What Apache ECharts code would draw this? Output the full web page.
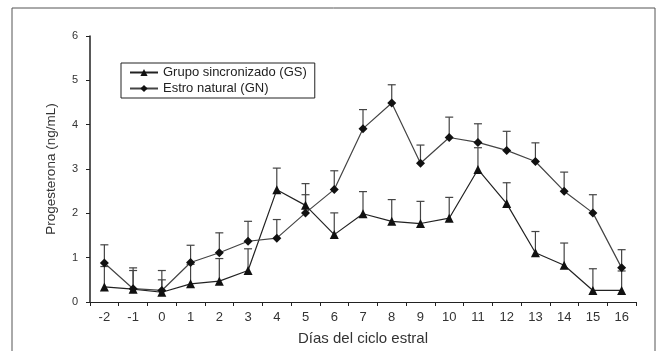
<!DOCTYPE html>
<html>
<head>
<meta charset="utf-8">
<script src="https://cdn.jsdelivr.net/npm/echarts@6/dist/echarts.min.js"></script>
<style>
  html, body { margin: 0; padding: 0; background: #fff; }
  #main { width: 663px; height: 351px; }
</style>
</head>
<body>
<div id="main"></div>
<script>
let dias = ["-2", "-1", "0", "1", "2", "3", "4", "5", "6", "7", "8", "9", "10", "11", "12", "13", "14", "15", "16"];

// Grupo sincronizado (GS): media y extremo superior del error
let gsMedia = [0.34, 0.29, 0.22, 0.41, 0.47, 0.71, 2.53, 2.18, 1.52, 1.99, 1.82, 1.77, 1.89, 2.99, 2.22, 1.11, 0.83, 0.26, 0.26];
let gsError = [0.80, 0.71, 0.50, 0.85, 0.98, 1.20, 3.02, 2.67, 2.01, 2.49, 2.31, 2.27, 2.36, 3.48, 2.69, 1.59, 1.33, 0.75, 0.70];

// Estro natural (GN)
let gnMedia = [0.88, 0.30, 0.26, 0.89, 1.11, 1.37, 1.44, 2.01, 2.54, 3.91, 4.49, 3.13, 3.71, 3.60, 3.42, 3.17, 2.50, 2.01, 0.77];
let gnError = [1.29, 0.77, 0.71, 1.28, 1.56, 1.82, 1.86, 2.42, 2.96, 4.34, 4.90, 3.54, 4.17, 4.02, 3.85, 3.59, 2.93, 2.42, 1.18];

let dom = document.getElementById("main");
let myChart = echarts.init(dom, null, { renderer: "canvas" });

function barras(media, error) {
    return media.map(function (v, i) { return [i, v, error[i]]; });
}

function dibujarError(params, api) {
    let base = api.coord([api.value(0), api.value(1)]);
    let tope = api.coord([api.value(0), api.value(2)]);
    let style = { stroke: "#444", lineWidth: 1.2 };
    return {
        type: "group",
        children: [
            { type: "line", shape: { x1: base[0], y1: base[1], x2: tope[0], y2: tope[1] }, style: style },
            { type: "line", shape: { x1: tope[0] - 4, y1: tope[1], x2: tope[0] + 4, y2: tope[1] }, style: style }
        ]
    };
}

let fuente = "Arial, 'Liberation Sans', sans-serif";

let option = {
    animation: false,
    backgroundColor: "#fff",
    textStyle: { fontFamily: fuente },
    graphic: [{
        type: "rect",
        shape: { x: 12, y: 8, width: 643, height: 360 },
        style: { fill: "none", stroke: "#555", lineWidth: 1 },
        silent: true
    }],
    grid: { left: 90, right: 27, top: 36, bottom: 49 },
    legend: {
        orient: "vertical",
        left: 121,
        top: 63,
        padding: [3, 8, 3, 8],
        itemGap: 3,
        itemWidth: 28,
        itemHeight: 9,
        borderColor: "#222",
        borderWidth: 1,
        textStyle: { fontFamily: fuente, fontSize: 13, color: "#222" },
        data: ["Grupo sincronizado (GS)", "Estro natural (GN)"]
    },
    xAxis: {
        type: "category",
        data: dias,
        boundaryGap: true,
        name: "Días del ciclo estral",
        nameLocation: "middle",
        nameGap: 29,
        nameTextStyle: { fontFamily: fuente, fontSize: 15, color: "#333" },
        axisLine: { lineStyle: { color: "#222", width: 1 } },
        axisTick: { show: true, length: 4, lineStyle: { color: "#222" } },
        axisLabel: { fontFamily: fuente, fontSize: 13, color: "#333", margin: 9 },
        splitLine: { show: false }
    },
    yAxis: {
        type: "value",
        min: 0,
        max: 6,
        interval: 1,
        name: "Progesterona (ng/mL)",
        nameLocation: "middle",
        nameGap: 32,
        nameTextStyle: { fontFamily: fuente, fontSize: 13.5, color: "#333" },
        axisLine: { show: true, lineStyle: { color: "#222", width: 1.5 } },
        axisTick: { show: true, length: 4, lineStyle: { color: "#222" } },
        axisLabel: { fontFamily: fuente, fontSize: 11, color: "#333", margin: 12 },
        splitLine: { show: false }
    },
    series: [
        {
            type: "custom",
            data: barras(gsMedia, gsError),
            renderItem: dibujarError,
            encode: { x: 0, y: [1, 2] },
            z: 1,
            silent: true
        },
        {
            type: "custom",
            data: barras(gnMedia, gnError),
            renderItem: dibujarError,
            encode: { x: 0, y: [1, 2] },
            z: 1,
            silent: true
        },
        {
            name: "Grupo sincronizado (GS)",
            type: "line",
            data: gsMedia,
            symbol: "triangle",
            symbolSize: 9,
            z: 3,
            lineStyle: { color: "#222", width: 1.2 },
            itemStyle: { color: "#111" }
        },
        {
            name: "Estro natural (GN)",
            type: "line",
            data: gnMedia,
            symbol: "diamond",
            symbolSize: 9,
            z: 3,
            lineStyle: { color: "#444", width: 1.2 },
            itemStyle: { color: "#111" }
        }
    ]
};

if (option && typeof option === "object") {
    myChart.setOption(option);
}

window.addEventListener("resize", myChart.resize);
</script>
</body>
</html>
